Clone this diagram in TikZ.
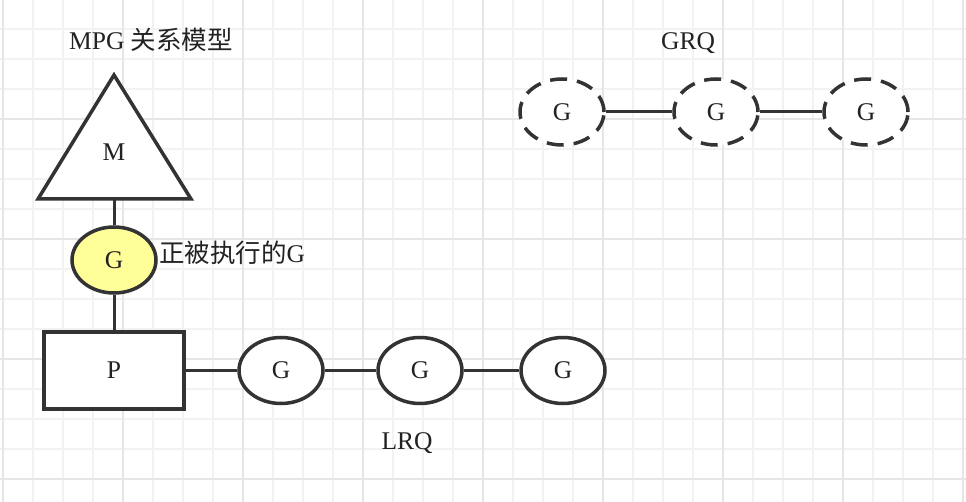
\documentclass[tikz,border=0pt]{standalone}
\usepackage{fontspec}
\setmainfont{Liberation Serif}
\newfontfamily\cjk{Noto Sans CJK SC}
\usetikzlibrary{shapes.geometric}
\definecolor{ink}{HTML}{333333}
\definecolor{tink}{HTML}{222222}
\definecolor{gminor}{HTML}{F2F2F2}
\definecolor{gmajor}{HTML}{E6E6E6}
\definecolor{gyellow}{HTML}{FFFF99}
\tikzset{
  minorline/.style={draw=gminor, line width=1.1pt},
  majorline/.style={draw=gmajor, line width=1.5pt},
  txt/.style={text=tink, font=\fontsize{25.5}{30}\selectfont, inner sep=0pt},
  gnode/.style={ellipse, draw=ink, line width=3.5pt, fill=white, minimum width=84pt, minimum height=66pt, inner sep=0pt, text=tink, font=\fontsize{25.5}{30}\selectfont},
  gdash/.style={gnode, dash pattern=on 17pt off 10pt},
  link/.style={draw=ink, line width=3pt},
}
\begin{document}
\begin{tikzpicture}[x=1pt, y=-1pt]
\useasboundingbox (0,0) rectangle (966,502);
\fill[white] (0,0) rectangle (966,502);
% grid
\foreach \i in {0,...,32} {\draw[minorline] ({3+30*\i},0) -- ({3+30*\i},502);}
\foreach \j in {0,...,16} {\draw[minorline] (0,{29+30*\j}) -- (966,{29+30*\j});}
\foreach \i in {0,...,8} {\draw[majorline] ({3+120*\i},0) -- ({3+120*\i},502);}
\foreach \j in {0,...,4} {\draw[majorline] (0,{-1+120*\j}) -- (966,{-1+120*\j});}

% title
\node[txt] (title) at (151,40) {MPG {\cjk 关系模型}};

% M triangle
\draw[draw=ink, line width=3.5pt, fill=white, line join=miter] (114,75) -- (191,199) -- (38,199) -- cycle;
\node[txt] (M) at (114,152) {M};
\coordinate (Mbase) at (114,199);

% running G
\node[gnode, fill=gyellow] (Gy) at (114,260) {G};
\node[txt, anchor=west] (run) at (159,253) {{\cjk 正被执行的}G};

% P box
\node[draw=ink, line width=3.5pt, fill=white, minimum width=140pt, minimum height=77pt, inner sep=0pt, text=tink, font=\fontsize{25.5}{30}\selectfont] (P) at (114,370.5) {P};

% LRQ
\node[gnode] (L1) at (281,370.5) {G};
\node[gnode] (L2) at (420,370.5) {G};
\node[gnode] (L3) at (563,370.5) {G};
\node[txt] (lrq) at (407,443) {LRQ};

% GRQ
\node[gdash] (R1) at (562,112) {G};
\node[gdash] (R2) at (716,112) {G};
\node[gdash] (R3) at (866,112) {G};
\node[txt] (grq) at (688,43) {GRQ};

% connectors
\draw[link] (Mbase) -- (Gy.north);
\draw[link] (Gy.south) -- (P.north);
\draw[link] (P.east) -- (L1.west);
\draw[link] (L1.east) -- (L2.west);
\draw[link] (L2.east) -- (L3.west);
\draw[link] (R1.east) -- (R2.west);
\draw[link] (R2.east) -- (R3.west);
\end{tikzpicture}
\end{document}
